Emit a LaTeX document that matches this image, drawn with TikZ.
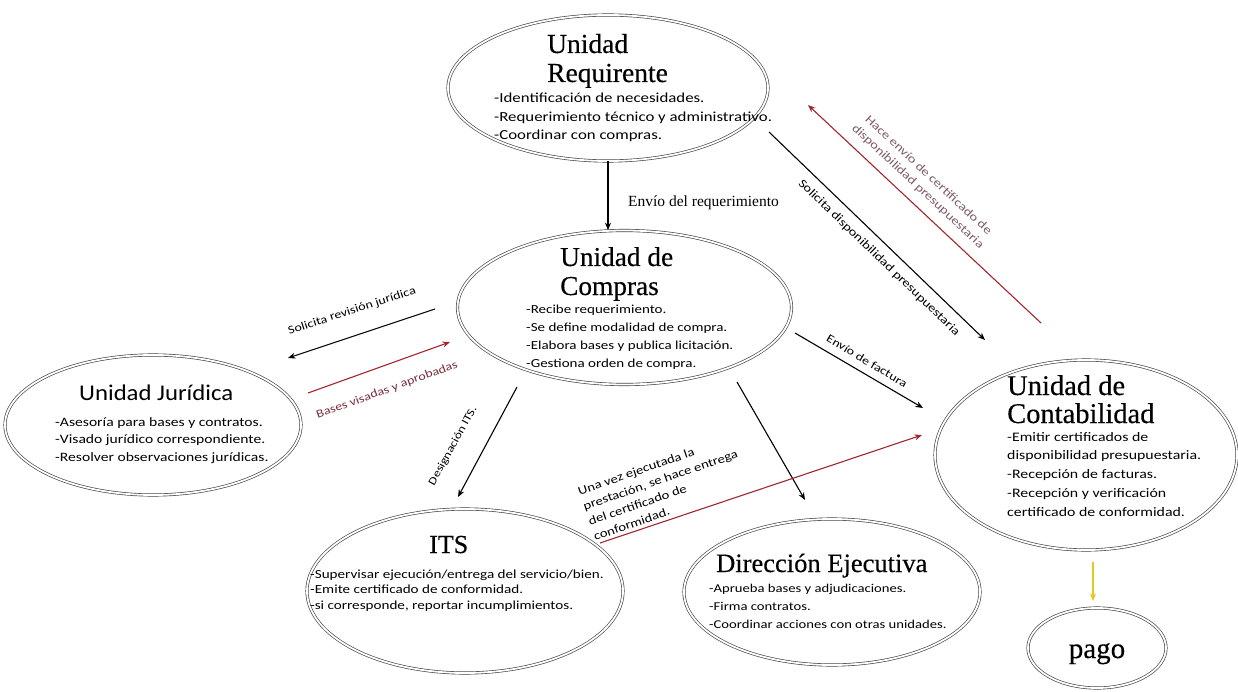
\documentclass[tikz,border=0pt]{standalone}
\usepackage{fontspec}
\setmainfont{Liberation Serif}
\newfontfamily\ttlfont[FakeBold=0.35]{Liberation Serif}
\newfontfamily\bul[FakeStretch=1.22]{Carlito}
\newfontfamily\jur[FakeStretch=1.1]{Carlito}
\usetikzlibrary{shapes.geometric,arrows.meta}
\definecolor{outl}{HTML}{444444}
\definecolor{redar}{HTML}{A3262E}
\definecolor{maroonl}{HTML}{7A2E3B}
\definecolor{hacec}{HTML}{7D5C66}
\definecolor{yel}{HTML}{E8C41C}
\newcommand{\blines}[1]{\begin{tabular}[t]{@{}l@{}}#1\end{tabular}}
\begin{document}
\begin{tikzpicture}[x=1pt,y=-1pt,
 ell/.style={ellipse, draw=outl, double=white, double distance=1.8pt, line width=0.65pt, inner sep=0pt},
 ttl/.style={inner sep=0pt, anchor=base west},
 bl/.style={inner sep=0pt, anchor=base west},
 arr/.style={-{Stealth[length=7.5pt,width=6pt]}, line width=1.1pt},
 lbl/.style={font=\bul\fontsize{11.5}{14}\selectfont, inner sep=0pt}]
\fill[white] (0,0) rectangle (1238,692);
\useasboundingbox (0,0) rectangle (1238,692);

% ellipses
\node[ell, minimum width=320pt, minimum height=146pt] (req) at (608,88) {};
\node[ell, minimum width=334pt, minimum height=154pt] (comp) at (624.5,307.5) {};
\node[ell, minimum width=296pt, minimum height=140pt] (jur) at (153,425) {};
\node[ell, minimum width=302pt, minimum height=190pt] (cont) at (1086,455) {};
\node[ell, minimum width=316pt, minimum height=164pt] (its) at (465,591) {};
\node[ell, minimum width=296pt, minimum height=146pt] (dir) at (832,592) {};
\node[ell, minimum width=138pt, minimum height=80pt] (pago) at (1097,648) {};

% titles
\node[ttl, font=\ttlfont\fontsize{27.5}{29}\selectfont] (reqT1) at (547,53) {Unidad};
\node[ttl, font=\ttlfont\fontsize{27.5}{29}\selectfont] (reqT2) at (547,82) {Requirente};
\node[ttl, font=\ttlfont\fontsize{27.3}{29}\selectfont] (compT1) at (560,266) {Unidad de};
\node[ttl, font=\ttlfont\fontsize{27.3}{29}\selectfont] (compT2) at (560,295) {Compras};
\node[ttl, font=\ttlfont\fontsize{28.5}{29}\selectfont] (contT1) at (1007,395) {Unidad de};
\node[ttl, font=\ttlfont\fontsize{28.5}{29}\selectfont] (contT2) at (1007,423) {Contabilidad};
\node[ttl, font=\ttlfont\fontsize{26}{29}\selectfont] (itsT) at (429,553) {ITS};
\node[ttl, font=\ttlfont\fontsize{26.5}{29}\selectfont] (dirT) at (716,572) {Dirección Ejecutiva};
\node[ttl, font=\jur\fontsize{22.5}{24}\selectfont] (jurT) at (79,400) {Unidad Jurídica};
\node[inner sep=0pt, anchor=base, font=\ttlfont\fontsize{29}{30}\selectfont] (pagoT) at (1097,658) {pago};

% bullet texts
\node[bl, font=\bul\fontsize{13.8}{18.5}\selectfont] (reqB) at (494,103)
 {\blines{-Identificación de necesidades.\\-Requerimiento técnico y administrativo.\\-Coordinar con compras.}};
\node[bl, font=\bul\fontsize{12.3}{18}\selectfont] (compB) at (526,313)
 {\blines{-Recibe requerimiento.\\-Se define modalidad de compra.\\-Elabora bases y publica licitación.\\-Gestiona orden de compra.}};
\node[bl, font=\bul\fontsize{12.8}{17.5}\selectfont] (jurB) at (55,426)
 {\blines{-Asesoría para bases y contratos.\\-Visado jurídico correspondiente.\\-Resolver observaciones jurídicas.}};
\node[bl, font=\bul\fontsize{13}{18.75}\selectfont] (contB) at (1007,441)
 {\blines{-Emitir certificados de\\disponibilidad presupuestaria.\\-Recepción de facturas.\\-Recepción y verificación\\certificado de conformidad.}};
\node[bl, font=\bul\fontsize{12.4}{15.5}\selectfont] (itsB) at (310,578)
 {\blines{-Supervisar ejecución/entrega del servicio/bien.\\-Emite certificado de conformidad.\\-si corresponde, reportar incumplimientos.}};
\node[bl, font=\bul\fontsize{12}{18}\selectfont] (dirB) at (709,592)
 {\blines{-Aprueba bases y adjudicaciones.\\-Firma contratos.\\-Coordinar acciones con otras unidades.}};

% connector end points
\coordinate (sdA) at (769,132); \coordinate (sdB) at (985,340);
\coordinate (heA) at (1041,323); \coordinate (heB) at (808,105);
\coordinate (srA) at (435,309); \coordinate (srB) at (288,358);
\coordinate (bvA) at (308,393); \coordinate (bvB) at (450,342);
\coordinate (dsA) at (517,387); \coordinate (dsB) at (458,497);
\coordinate (deA) at (737,382); \coordinate (deB) at (805,500);
\coordinate (efA) at (795,333); \coordinate (efB) at (923,408);
\coordinate (uvA) at (600,543); \coordinate (uvB) at (922,435);
\coordinate (ypA) at (1093,562); \coordinate (ypB) at (1093,601);

% connectors
\draw[arr] (req.south) -- (req.south |- comp.north);
\draw[arr] (sdA) -- (sdB);
\draw[arr, redar] (heA) -- (heB);
\draw[arr] (srA) -- (srB);
\draw[arr, redar] (bvA) -- (bvB);
\draw[arr] (dsA) -- (dsB);
\draw[arr] (deA) -- (deB);
\draw[arr] (efA) -- (efB);
\draw[arr, redar] (uvA) -- (uvB);
\draw[arr, yel, line width=1.3pt] (ypA) -- (ypB);

% labels
\node[inner sep=0pt, anchor=base west, font=\fontsize{15.5}{18}\selectfont] (lEnv) at (628,207) {Envío del requerimiento};
\node[lbl, font=\bul\fontsize{11.9}{14}\selectfont, rotate=-44] (lSd) at (879,258) {Solicita disponibilidad presupuestaria};
\node[lbl, font=\bul\fontsize{12}{15.5}\selectfont, rotate=-43, align=center, text=hacec] (lHe) at (923,181) {Hace envío de certificado de\\disponibilidad presupuestaria};
\node[lbl, rotate=18] (lSr) at (352,311) {Solicita revisión jurídica};
\node[lbl, rotate=20, text=maroonl] (lBv) at (387,390) {Bases visadas y aprobadas};
\node[lbl, font=\bul\fontsize{11}{14}\selectfont, rotate=61] (lDs) at (453,446) {Designación ITS.};
\node[lbl, rotate=-31] (lEf) at (867,361) {Envío de factura};
\node[lbl, font=\bul\fontsize{12}{16}\selectfont, rotate=19, align=left, anchor=west] (lUv) at (586,514) {Una vez ejecutada la\\prestación, se hace entrega\\del certificado de\\conformidad.};
\end{tikzpicture}
\end{document}
